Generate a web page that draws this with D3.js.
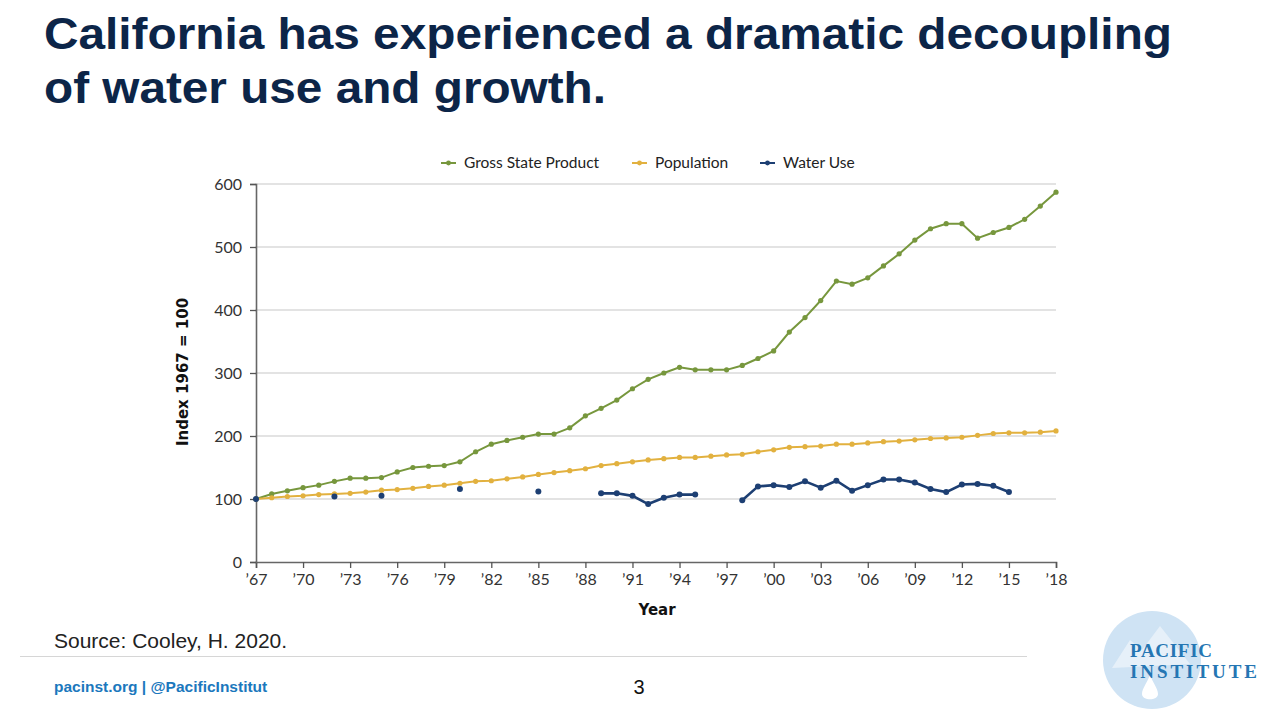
<!DOCTYPE html>
<html>
<head>
<meta charset="utf-8">
<script src="https://cdn.jsdelivr.net/npm/d3@7"></script>
<style>
  body { margin: 0; background: #fff; }
  svg { display: block; }
</style>
</head>
<body>
<div id="chart"></div>
<script>
// values (index, 1967 = 100)
const years = d3.range(1967, 2019);

const gsp = [100, 108, 113, 118, 122, 128, 133, 133, 134, 143, 150, 152, 153, 159, 175, 187, 193, 198, 203, 203,
  213, 232, 244, 257, 275, 290, 300, 309, 305, 305, 305, 312, 323, 335, 365, 388, 415, 446, 441, 451,
  470, 489, 511, 529, 537, 537, 514, 523, 531, 544, 565, 587];

const population = [100, 102, 104, 105, 107, 108, 109, 111, 114, 115, 117, 120, 122, 125, 128, 129, 132, 135, 139, 142,
  145, 148, 153, 156, 159, 162, 164, 166, 166, 168, 170, 171, 175, 178, 182, 183, 184, 187, 187, 189,
  191, 192, 194, 196, 197, 198, 201, 204, 205, 205, 206, 208];

// gaps where no estimate was published
const waterUse = [100, null, null, null, null, 104, null, null, 105, null, null, null, null, 116, null, null, null, null, 112, null,
  null, null, 109, 109, 105, 92, 102, 107, 107, null, null, 98, 120, 122, 119, 128, 118, 129, 113, 122,
  131, 131, 126, 116, 111, 123, 124, 121, 111, null, null, null];

const yTicks = [0, 100, 200, 300, 400, 500, 600];
const xTicks = d3.range(1967, 2019, 3);

const seriesNames = ["Gross State Product", "Population", "Water Use"];
const seriesColors = ["#77973d", "#e2b13f", "#1d3f73"];

const width = 1280;
const height = 720;
const margin = { top: 184, right: 224, bottom: 158, left: 256 };
const innerW = width - margin.left - margin.right;
const innerH = height - margin.top - margin.bottom;

const svg = d3.select("#chart")
  .append("svg")
  .attr("width", width)
  .attr("height", height);

// slide title
const title = svg.append("text")
  .attr("font-family", "Liberation Sans, Arial, sans-serif")
  .attr("font-weight", "bold")
  .attr("font-size", 45)
  .attr("fill", "#0c2548");
title.append("tspan").attr("x", 44).attr("y", 49)
  .attr("textLength", 1128).attr("lengthAdjust", "spacingAndGlyphs")
  .text("California has experienced a dramatic decoupling");
title.append("tspan").attr("x", 44).attr("y", 103)
  .attr("textLength", 562).attr("lengthAdjust", "spacingAndGlyphs")
  .text("of water use and growth.");

const g = svg.append("g")
  .attr("transform", `translate(${margin.left}, ${margin.top})`);

const x = d3.scaleLinear().domain([1967, 2018]).range([0, innerW]);
const y = d3.scaleLinear().domain([0, 600]).range([innerH, 0]);

// gridlines
g.append("g")
  .selectAll("line")
  .data(yTicks.filter(d => d > 0))
  .join("line")
  .attr("x1", 0)
  .attr("x2", innerW)
  .attr("y1", d => y(d))
  .attr("y2", d => y(d))
  .attr("stroke", "#c8c8c8")
  .attr("stroke-width", 1.2);

const tickFont = "Lato, 'Open Sans', sans-serif";
const titleFont = "'DejaVu Sans', sans-serif";

// axes
const xAxis = g.append("g")
  .attr("transform", `translate(0, ${innerH})`)
  .call(d3.axisBottom(x).tickValues(xTicks).tickSize(6).tickPadding(6)
    .tickFormat(d => "\u2019" + String(d).slice(2)));

const yAxis = g.append("g")
  .call(d3.axisLeft(y).tickValues(yTicks).tickSize(6).tickPadding(8));

[xAxis, yAxis].forEach(ax => {
  ax.select(".domain").attr("stroke", "#666").attr("stroke-width", 1.6);
  ax.selectAll(".tick line").attr("stroke", "#555").attr("stroke-width", 1.3);
  ax.selectAll(".tick text")
    .attr("font-family", tickFont)
    .attr("font-size", 16)
    .attr("fill", "#333");
});

// lines
const allSeries = [gsp, population, waterUse];

const line = d3.line()
  .defined(d => d.v != null)
  .x(d => x(d.yr))
  .y(d => y(d.v));

allSeries.forEach((vals, i) => {
  const pts = years.map((yr, k) => ({ yr: yr, v: vals[k] }));
  const isWater = i === 2;
  g.append("path")
    .datum(pts)
    .attr("d", line)
    .attr("fill", "none")
    .attr("stroke", seriesColors[i])
    .attr("stroke-width", isWater ? 2.6 : 2);
  g.append("g")
    .selectAll("circle")
    .data(pts.filter(d => d.v != null))
    .join("circle")
    .attr("cx", d => x(d.yr))
    .attr("cy", d => y(d.v))
    .attr("r", isWater ? 3 : 2.6)
    .attr("fill", seriesColors[i]);
});

// axis titles
g.append("text")
  .attr("transform", "rotate(-90)")
  .attr("x", -(372 - margin.top))
  .attr("y", -68)
  .attr("text-anchor", "middle")
  .attr("font-family", titleFont)
  .attr("font-weight", "bold")
  .attr("font-size", 15)
  .attr("fill", "#111")
  .text("Index 1967 = 100");

g.append("text")
  .attr("x", innerW / 2 + 1)
  .attr("y", innerH + 53)
  .attr("text-anchor", "middle")
  .attr("font-family", titleFont)
  .attr("font-weight", "bold")
  .attr("font-size", 15)
  .attr("fill", "#111")
  .text("Year");

// legend
const legendX = [441, 632, 760];
const legend = svg.append("g");
seriesNames.forEach((name, i) => {
  const lg = legend.append("g").attr("transform", `translate(${legendX[i]}, 163)`);
  lg.append("line")
    .attr("x1", 0).attr("x2", 15)
    .attr("stroke", seriesColors[i]).attr("stroke-width", 2);
  lg.append("circle").attr("cx", 7.5).attr("r", 2.4).attr("fill", seriesColors[i]);
  lg.append("text")
    .attr("x", 23)
    .attr("dy", "0.35em")
    .attr("font-family", tickFont)
    .attr("font-size", 15.5)
    .attr("fill", "#222")
    .text(name);
});

// footer
svg.append("text")
  .attr("x", 54).attr("y", 648)
  .attr("font-family", "Liberation Sans, Arial, sans-serif")
  .attr("font-size", 21)
  .attr("fill", "#222")
  .text("Source: Cooley, H. 2020.");

svg.append("line")
  .attr("x1", 20).attr("x2", 1027)
  .attr("y1", 656.5).attr("y2", 656.5)
  .attr("stroke", "#d6d6d6").attr("stroke-width", 1);

svg.append("text")
  .attr("x", 54).attr("y", 692)
  .attr("font-family", "Liberation Sans, Arial, sans-serif")
  .attr("font-weight", "bold")
  .attr("font-size", 15.5)
  .attr("fill", "#1b78bd")
  .text("pacinst.org | @PacificInstitut");

svg.append("text")
  .attr("x", 639).attr("y", 694)
  .attr("text-anchor", "middle")
  .attr("font-family", "Liberation Sans, Arial, sans-serif")
  .attr("font-size", 20)
  .attr("fill", "#111")
  .text("3");

// logo
const logo = svg.append("g");
logo.append("circle")
  .attr("cx", 1152).attr("cy", 660).attr("r", 49)
  .attr("fill", "#cfe3f4");
logo.append("path")
  .attr("d", "M1112,668 L1130,640 L1142,650 L1160,626 L1190,664 Z")
  .attr("fill", "#e6f0f9");
logo.append("path")
  .attr("d", "M1150,674 C1148,682 1142,688 1142,694 C1142,701 1158,701 1158,694 C1158,688 1152,682 1150,674 Z")
  .attr("fill", "#ffffff");
logo.append("text")
  .attr("x", 1130).attr("y", 657)
  .attr("font-family", "Liberation Serif, 'DejaVu Serif', serif")
  .attr("font-weight", "bold")
  .attr("font-size", 19)
  .attr("textLength", 82).attr("lengthAdjust", "spacing")
  .attr("fill", "#2576b3")
  .text("PACIFIC");
logo.append("text")
  .attr("x", 1130).attr("y", 678)
  .attr("font-family", "Liberation Serif, 'DejaVu Serif', serif")
  .attr("font-weight", "bold")
  .attr("font-size", 19)
  .attr("textLength", 127).attr("lengthAdjust", "spacing")
  .attr("fill", "#2576b3")
  .text("INSTITUTE");
</script>
</body>
</html>
